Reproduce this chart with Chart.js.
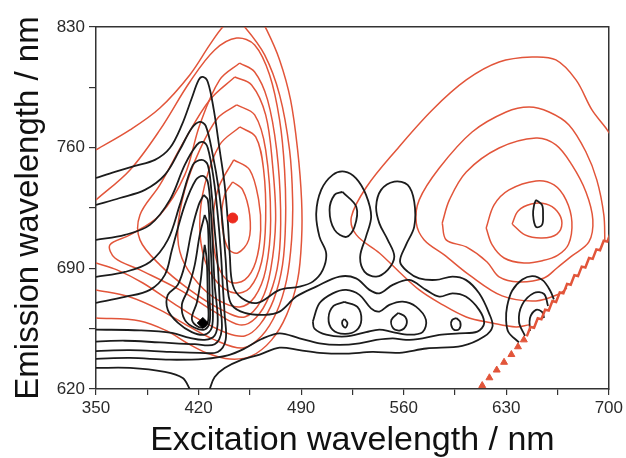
<!DOCTYPE html>
<html>
<head>
<meta charset="utf-8">
<script src="https://cdn.jsdelivr.net/npm/chart.js@4.4.0/dist/chart.umd.min.js"></script>
<style>
  html, body { margin: 0; padding: 0; background: #fff; }
</style>
</head>
<body>
<canvas id="chart" width="626" height="458"></canvas>
<script>
// tick labels
var xTicks = [350, 420, 490, 560, 630, 700];
var yTicks = [620, 690, 760, 830];

// black contours that run off to the axes (excitation, emission)
var blackOpen = [
    // outer ridge, joined to the ring round the 520-600 nm peaks
    [[350,742.4],[362.9,745.9],[376.6,749.4],[390.2,752.9],[400.4,759.8],[408.6,773.2],[415.4,788.8],[420.1,799.3],[422.9,801.0],[426.3,798.1],[430.4,781.9],[434.4,758.7],[437.8,738.4],[439.9,718.1],[441.3,697.8],[443.3,680.4],[449.4,672.8],[460.3,670.0],
     [475.3,677.5],[488.9,679.4],[498.0,682.3],[504.8,689.1],[507.1,698.7],[502.5,708.4],[500.3,721.9],[503.7,735.5],[511.6,744.2],[519.6,746.1],[527.5,742.2],[534.3,732.6],[537.8,720.0],[534.3,708.4],[530.3,696.8],[533.2,688.1],[541.2,685.2],[549.1,689.1],[553.6,696.8],[549.1,706.5],[543.4,716.1],[541.2,725.8],[544.6,735.5],[553.6,740.3],[562.7,738.4],[567.2,728.7],[567.2,714.2],[561.6,703.6],[557.5,693.9],[562.7,688.1],[570.6,684.2],[582.0,683.3],[593.3,685.2],[602.4,683.3],[611.5,675.5],[618.3,663.9],[620.6,656.2],[614.9,650.4],[600,645],[575.4,643.5],[557,641],[538.6,641.5],[520.9,640.5],[502.5,641],[488.9,642.5],[475.3,644],
     [461.7,640],[448.1,636.5],[437.8,632.2],[431.0,627.0],[427.6,620]],
    [[350,632.2],[373.2,632.2],[397,629.9],[409.2,626.4],[414,620]],
    [[350,726.8],[366.3,730.8],[383.4,735.5],[397,744.2],[407.2,758.7],[415.4,771.4],[420.8,774.9],[424.9,772.6],[429.7,755.8],[433.8,735.5],[436.5,715.2],[438.5,694.9],[439.9,677.5],[442.6,668.8],[451.5,664.1],[465.1,663.0],
     [475.3,664.9],[486.7,673.6],[500.3,679.4],[516.2,685.2],[527.5,684.2],[536.6,677.5],[543.4,675.5],[552.5,680.4],[563.8,683.3],[575.2,677.5],[584.3,673.6],[593.3,675.5],[602.4,673.6],[611.5,665.9],[614.9,658.1],[610.3,653.3],[597.9,652.3],[584.3,651.4],[572.9,649.4],[561.6,648.5],[552.5,649.4],[541.2,648.5],[529.8,646.5],[516.2,645.6],[502.5,646.5],[488.9,649.4],[475.3,652.3],
     [463.0,649],[451.5,643.5],[439.9,639.5],[424.2,637.5],[400.4,637],[373.2,638],[350,637.5]],
    [[350,706.5],[369.7,709.4],[386.8,715.2],[400.4,729.7],[410.6,750.0],[418.8,761.6],[422.9,763.3],[426.3,759.8],[430.4,741.3],[433.1,721.0],[435.1,700.7],[436.5,680.4],[437.8,663.0],[438.5,648.5],[433.1,641.5],[420.8,641],[400.4,641.5],[373.2,642.5],[350,642]],
    [[350,685],[369.7,687.9],[386.8,693.7],[399.0,706.5],[407.2,726.8],[416.1,750.0],[422.2,752.9],[426.3,750.0],[429.0,732.6],[431.0,712.3],[433.1,692.0],[434.4,671.7],[435.8,654.3],[431.0,646],[417.4,646],[393.6,647],[369.7,648],[350,647.5]],
    [[350,670],[369.7,673.4],[386.8,677.5],[397,686.2],[401.8,700.7],[410.6,726.8],[418.1,741.3],[422.9,743.6],[426.3,740.1],[428.3,723.9],[429.7,703.6],[431.0,680.4],[433.1,660.1],[431.0,651],[424.2,648.5],[414.0,649.6],[401.8,652.5],[380,654],[350,654.5]],
    // small peak cut by the scatter line
    [[638.7,647],[631.5,653],[629.9,660],[630.6,668],[634,677],[641,683.5],[648,685.5],[655,683],[660,677],[662.5,672]],
    [[642.8,650.8],[638.7,658.9],[640.8,668.8],[648.9,675.7],[655.8,675.1],[658.5,668.2]],
    [[646.2,653.7],[646.2,661.2],[650.3,665.9],[654.4,664.7],[655.8,661.2]]
];

// closed black contours
var blackLoops = [
    [[423.5,732.6],[426.3,729.7],[427.6,712.3],[429.0,689.1],[429.7,668.8],[429.0,655.5],[424.2,651.5],[415.4,653],[405.8,658.5],[399.0,665.9],[399.0,674.6],[405.8,680.4],[410.6,692.0],[415.4,712.3],[420.1,726.8]],
    [[424.2,721.0],[426.3,715.2],[427.0,694.9],[427.6,671.7],[427.6,659],[424.2,654.5],[417.4,655.5],[410.6,660.1],[408.6,668.8],[412.7,677.5],[417.4,692.0],[420.8,709.4]],
    [[424.2,703.6],[425.6,694.9],[426.3,671.7],[426.6,660],[423.5,655.8],[418.1,657],[415.4,661.2],[418.8,670.0],[421.5,683.3],[422.9,694.9]],
    [[518.2,734.3],[527.7,725.6],[526.4,714.0],[520.9,708.2],[512.8,712.3],[509.4,723.9],[512.8,732.6]],
    [[498.0,659.1],[502.5,669.7],[511.6,675.5],[520.7,677.5],[529.8,674.6],[537.7,666.8],[543.4,664.9],[550.2,668.8],[559.3,670.7],[568.4,667.8],[575.2,660.1],[572.9,653],[563.8,651.5],[552.5,653],[543.4,654.5],[534.3,653],[520.7,650.5],[507.1,651.5],[499.1,655]],
    [[519.6,670.5],[528.4,667.6],[531.1,660.1],[527.7,654],[519.6,652],[511.4,654.5],[508.7,661.2],[512.1,668.2]],
    [[556.3,664.1],[561.1,661.8],[561.8,657.2],[557.7,654],[552.9,655.2],[551.6,660.1]],
    [[595.8,661.2],[598.6,658.9],[597.9,654.8],[594.5,654.3],[592.4,657.2],[593.1,660.1]],
    [[519.6,660.6],[521.6,658.3],[520.3,655.6],[518.2,657.2],[518.2,659.5]],
    [[650.3,729.7],[654.4,726.8],[655.1,721],[654.4,715.2],[650.3,714],[648.3,721],[649,726.8]]
];

// red contours that leave the plot
var redOpen = [
    [[460.3,837],[466.5,828.3],[475.3,810.9],[482.8,787.7],[487.6,758.7],[490.3,729.7],[490.3,706.5],[487.6,683.3],[480.1,663.0],[469.9,648.5],[456.2,639.2],[441.3,637.4],[425.6,640.9],[412.0,646.7],[398.4,653.7],[380.0,659.5],[350,661.2]],
    [[350,758.7],[373.2,770.3],[393.6,783.0],[414.0,802.2],[427.6,819.6],[436.5,830],[444.0,835.2],[451.5,830],[465.1,813.8],[475.3,790.6],[482.1,758.7],[484.2,729.7],[483.5,706.5],[480.1,683.3],[473.3,664.7],[463.0,650.8],[450.1,643.8],[431.0,648.5],[414.0,656.0],[393.6,665.9],[373.2,673.4],[350,677.5]],
    [[350,729.7],[373.2,747.1],[393.6,770.3],[414.0,798.1],[431.0,816.7],[446.0,823.6],[458.3,819.6],[468.5,802.2],[475.3,776.1],[478.7,747.1],[479.4,718.1],[477.3,692.0],[471.2,671.7],[461.7,657.2],[451.5,650.8],[439.2,652.5],[420.8,660.1],[402.4,670.0],[382.0,681.5],[364.3,689.1],[350,693.1]],
    [[697.3,705.3],[696.6,721.0],[691.8,741.3],[684.4,757.5],[672.8,773.2],[659.2,780.7],[645.6,783.6],[629.9,780.7],[606.7,769.1],[584.3,748.2],[570.6,729.7],[568.6,716.3],[574.0,706.5],[587.7,697.8],[604.7,686.2],[627.2,674.0],[650.3,671.1],[666.0,675.1],[671.4,678.6]],
    [[703.4,764.5],[698,771.4],[688.5,781.9],[677.6,799.3],[663.9,810.9],[647.6,812.6],[625.1,809.7],[602.7,799.3],[579.5,781.9],[555.0,758.7],[534.6,737.2],[524.3,719.8],[527.7,709.4],[543.4,698.9],[557.0,687.9],[570.6,677.5],[584.3,670.0],[602.7,661.8],[620.4,658.3],[636.7,656.0],[645.6,657.2]]
];

// closed red contours
var redLoops = [
    [[448.1,809.1],[458.3,803.9],[467.1,787.7],[473.3,758.7],[476.0,723.9],[474.6,694.9],[468.5,674.6],[459.0,661.2],[448.1,657.2],[431.0,664.7],[407.2,677.5],[380.0,689.1],[362.9,696.0],[359.5,703.6],[373.2,709.4],[393.6,721.0],[410.6,744.2],[420.8,773.2],[434.4,799.3]],
    [[444.7,801.0],[456.2,796.4],[465.8,779.0],[470.5,750.0],[472.6,718.1],[469.2,689.1],[463.0,671.7],[451.5,661.8],[435.8,665.9],[414.0,677.5],[393.6,692.0],[380.0,706.5],[380.0,721.0],[393.6,738.4],[410.6,764.5],[427.6,787.7]],
    [[446.0,784.8],[458.3,779.0],[465.8,758.7],[469.2,718.1],[465.8,689.1],[458.3,673.4],[448.1,667.6],[433.1,671.7],[419.5,681.5],[408.6,696.0],[405.8,712.3],[410.6,735.5],[420.8,758.7],[433.1,777.2]],
    [[448.1,772.0],[459.0,766.2],[464.4,747.1],[465.8,718.1],[463.0,693.7],[454.9,678.6],[444.7,675.7],[433.1,681.5],[424.2,694.9],[420.8,715.2],[424.2,738.4],[434.4,761.6]],
    [[444.0,752.9],[454.9,747.1],[461.0,729.7],[462.4,712.3],[459.0,693.7],[451.5,683.3],[441.3,682.1],[433.1,692.0],[429.7,712.3],[433.1,735.5]],
    [[443.3,740.1],[450.1,735.5],[454.9,721.0],[454.2,706.5],[446.7,698.9],[439.9,701.8],[435.8,718.1],[437.8,732.6]],
    [[634.0,715.7],[638.1,723.3],[647.0,727.3],[657.1,727.3],[664.6,723.3],[668.0,716.3],[664.6,709.9],[654.4,707.6],[642.8,709.4]],
    [[616.3,713.4],[621.7,726.8],[631.9,735.5],[650.3,740.7],[662.6,738.4],[670.8,729.7],[674.8,716.9],[672.5,704],[665,697.5],[655,694.5],[642.1,693.1],[628.5,696.0],[620.4,703.6]],
    [[586.3,716.3],[591.2,729.7],[602.7,745.9],[625.1,759.8],[650.3,765.6],[663.9,761.6],[674.8,750.0],[684.4,734.3],[689.1,718.1],[686.4,705.3],[674.8,697.2],[664.6,690.2],[655.8,684.4],[638.7,682.1],[625.1,685.0],[616.9,693.7],[602.7,702.4],[589.0,706.5]]
];

// scatter line: separate dots below, saw-tooth above
var scatterDots = [[613.6,622],[618.5,626.5],[623.5,631],[628.5,635.5],[633.5,640],[638,644.5],[642,648.5]];
var scatterLine = [[644,650.5],[646.5,656],[649,655.5],[651.5,661],[654,660.5],[656.5,666],[659,665.5],[661.5,671],[664,670.5],[666.5,676],[669,675.5],[671.5,681],[674,680.5],[676.5,686],[679,685.5],[681.5,691],[684,690.5],[686.5,696],[689,695.5],[691.5,701],[694,700.5],[696.5,706],[699,705.5],[701,710]];

// maxima
var redPeak = [[443.3,719.2]];
var blackPeak = [[422.9,658.3]];

var RED = "#e2553a";
var BLACK = "#1c1c1c";

function toXY(list, closed) {
    var pts = list.map(function (p) { return { x: p[0], y: p[1] }; });
    if (closed) pts.push(pts[0]);
    return pts;
}

function lineSet(list, color, width, closed) {
    return {
        data: toXY(list, closed),
        showLine: true,
        borderColor: color,
        borderWidth: width,
        pointRadius: 0,
        tension: 0.35,
        fill: false
    };
}

var datasets = [];

datasets.push({ data: toXY(scatterLine), showLine: true, borderColor: RED, borderWidth: 2.5, pointRadius: 0, tension: 0 });
datasets.push({ data: toXY(scatterDots), showLine: false, pointRadius: 4, pointStyle: "triangle", backgroundColor: RED, borderColor: RED });
datasets.push({ data: toXY(redPeak), showLine: false, pointRadius: 5, backgroundColor: "#ec2a1e", borderColor: "#ec2a1e" });
datasets.push({ data: toXY(blackPeak), showLine: false, pointRadius: 5.5, pointStyle: "rectRot", backgroundColor: "#000", borderColor: "#000" });

blackOpen.forEach(function (c) { datasets.push(lineSet(c, BLACK, 1.8, false)); });
blackLoops.forEach(function (c) { datasets.push(lineSet(c, BLACK, 1.8, true)); });
redOpen.forEach(function (c) { datasets.push(lineSet(c, RED, 1.5, false)); });
redLoops.forEach(function (c) { datasets.push(lineSet(c, RED, 1.5, true)); });

Chart.defaults.font.family = "'Liberation Sans', Arial, sans-serif";

var axisColor = "#333";

var config = {
    type: "scatter",
    data: { datasets: datasets },
    options: {
        responsive: false,
        animation: false,
        layout: { padding: { left: 0, top: 27, right: 16, bottom: 0 } },
        plugins: {
            legend: { display: false },
            tooltip: { enabled: false }
        },
        scales: {
            x: {
                type: "linear",
                position: "bottom",
                min: 350,
                max: 700,
                ticks: {
                    stepSize: 35,
                    autoSkip: false,
                    maxRotation: 0,
                    padding: 3,
                    color: "#2a2a2a",
                    font: { size: 17 },
                    callback: function (v) { return xTicks.indexOf(v) >= 0 ? String(v) : ""; }
                },
                grid: { drawOnChartArea: false, drawTicks: true, tickLength: 6, color: axisColor, lineWidth: 1.2 },
                border: { display: true, color: axisColor, width: 1.5 },
                title: {
                    display: true,
                    text: "Excitation wavelength / nm",
                    color: "#111",
                    font: { size: 34, lineHeight: 1 },
                    padding: { top: 0, bottom: 0 }
                },
                afterFit: function (s) { s.height = 69; }
            },
            y: {
                type: "linear",
                position: "left",
                min: 620,
                max: 830,
                ticks: {
                    stepSize: 35,
                    autoSkip: false,
                    padding: 4,
                    color: "#2a2a2a",
                    font: { size: 17 },
                    callback: function (v) { return yTicks.indexOf(v) >= 0 ? String(v) : ""; }
                },
                grid: { drawOnChartArea: false, drawTicks: true, tickLength: 7, color: axisColor, lineWidth: 1.2 },
                border: { display: true, color: axisColor, width: 1.5 },
                title: {
                    display: true,
                    text: "Emission wavelength / nm",
                    color: "#111",
                    font: { size: 33, lineHeight: 1 },
                    padding: { top: 12, bottom: 0 }
                },
                afterFit: function (s) { s.width = 96; }
            },
            xTop: {
                type: "linear",
                position: "top",
                min: 350,
                max: 700,
                ticks: { display: false },
                grid: { drawOnChartArea: false, drawTicks: false },
                border: { display: true, color: axisColor, width: 1.5 },
                afterFit: function (s) { s.height = 0; }
            },
            yRight: {
                type: "linear",
                position: "right",
                min: 620,
                max: 830,
                ticks: { display: false },
                grid: { drawOnChartArea: false, drawTicks: false },
                border: { display: true, color: axisColor, width: 1.5 },
                afterFit: function (s) { s.width = 0; }
            }
        }
    }
};

new Chart(document.getElementById("chart").getContext("2d"), config);
</script>
</body>
</html>
